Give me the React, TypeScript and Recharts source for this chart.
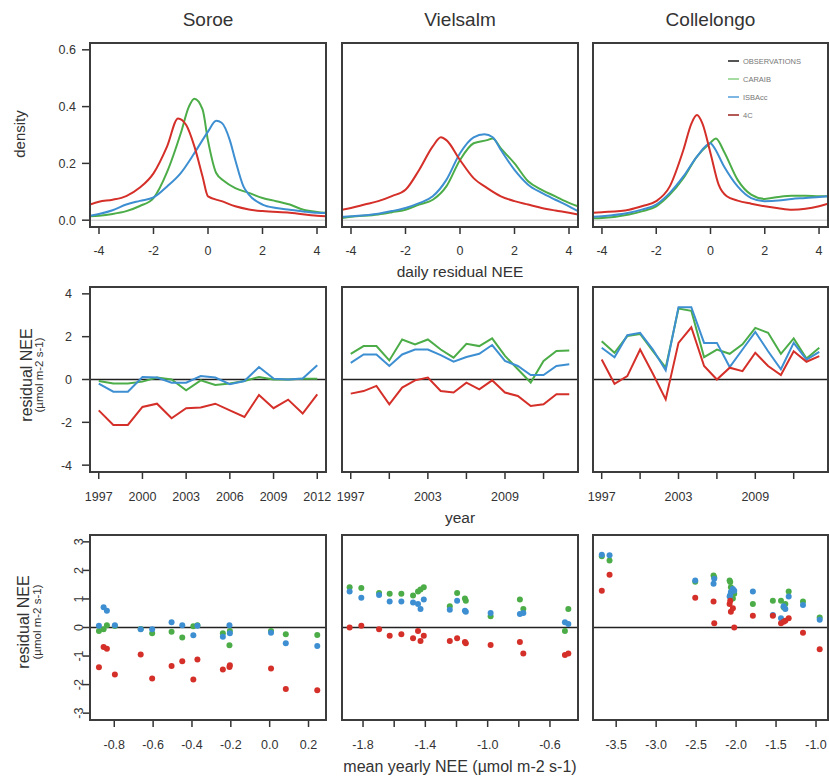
import React from "react";
import {
  LineChart,
  Line,
  ScatterChart,
  Scatter,
  XAxis,
  YAxis,
  ReferenceLine,
} from "recharts";

type Pt = [number, number];

// ---- top row: density of daily residual NEE ----
const soroeDensCaraib: Pt[] = [
  [-4.33, 0.014], [-4, 0.016], [-3.5, 0.022], [-3, 0.032], [-2.5, 0.05], [-2, 0.078],
  [-1.5, 0.17], [-1, 0.306], [-0.7, 0.4], [-0.5, 0.428], [-0.2, 0.39], [0, 0.28],
  [0.3, 0.166], [0.6, 0.137], [1, 0.113], [1.5, 0.096], [2, 0.078], [2.5, 0.067],
  [3, 0.055], [3.5, 0.037], [4, 0.029], [4.33, 0.026],
];
const soroeDensIsba: Pt[] = [
  [-4.33, 0.016], [-4, 0.022], [-3.5, 0.035], [-3, 0.055], [-2.5, 0.068], [-2, 0.08],
  [-1.5, 0.119], [-1, 0.166], [-0.5, 0.236], [0, 0.312], [0.3, 0.35], [0.5, 0.343],
  [0.8, 0.282], [1, 0.212], [1.3, 0.119], [1.5, 0.09], [2, 0.055], [2.5, 0.043],
  [3, 0.037], [3.5, 0.031], [4, 0.026], [4.33, 0.025],
];
const soroeDens4C: Pt[] = [
  [-4.33, 0.055], [-4, 0.065], [-3.5, 0.072], [-3, 0.085], [-2.5, 0.115], [-2, 0.165],
  [-1.5, 0.26], [-1.1, 0.358], [-0.8, 0.335], [-0.5, 0.26], [-0.2, 0.154], [0, 0.084],
  [0.5, 0.067], [1, 0.049], [1.5, 0.038], [2, 0.032], [3, 0.026], [4, 0.016], [4.33, 0.014],
];

const vielsalmDensCaraib: Pt[] = [
  [-4.33, 0.008], [-4, 0.012], [-3, 0.02], [-2.5, 0.028], [-2, 0.037], [-1.5, 0.055],
  [-1, 0.072], [-0.5, 0.119], [0, 0.212], [0.5, 0.271], [1, 0.282], [1.2, 0.288],
  [1.5, 0.253], [2, 0.2], [2.5, 0.137], [3, 0.107], [3.5, 0.084], [4, 0.061], [4.33, 0.049],
];
const vielsalmDensIsba: Pt[] = [
  [-4.33, 0.012], [-4, 0.014], [-3, 0.023], [-2.5, 0.032], [-2, 0.043], [-1.5, 0.06],
  [-1, 0.084], [-0.5, 0.142], [0, 0.236], [0.5, 0.292], [0.9, 0.303], [1.2, 0.292],
  [1.5, 0.247], [2, 0.177], [2.5, 0.125], [3, 0.096], [3.5, 0.072], [4, 0.049], [4.33, 0.032],
];
const vielsalmDens4C: Pt[] = [
  [-4.33, 0.037], [-4, 0.043], [-3.5, 0.055], [-3, 0.067], [-2.5, 0.085], [-2, 0.107],
  [-1.5, 0.177], [-1, 0.26], [-0.7, 0.292], [-0.5, 0.282], [0, 0.212], [0.5, 0.148],
  [1, 0.113], [1.5, 0.084], [2, 0.067], [2.5, 0.055], [3, 0.043], [3.5, 0.034], [4, 0.026],
  [4.33, 0.02],
];

const collelongoDensCaraib: Pt[] = [
  [-4.33, 0.007], [-4, 0.008], [-3, 0.02], [-2.5, 0.032], [-2, 0.049], [-1.5, 0.09],
  [-1, 0.148], [-0.5, 0.224], [0, 0.273], [0.2, 0.288], [0.5, 0.241], [1, 0.142],
  [1.5, 0.09], [2, 0.075], [2.5, 0.082], [3, 0.086], [3.5, 0.086], [4, 0.084], [4.33, 0.084],
];
const collelongoDensIsba: Pt[] = [
  [-4.33, 0.012], [-4, 0.014], [-3, 0.026], [-2.5, 0.038], [-2, 0.055], [-1.5, 0.096],
  [-1, 0.154], [-0.5, 0.224], [0, 0.271], [0.1, 0.261], [0.5, 0.189], [1, 0.119],
  [1.5, 0.078], [2, 0.067], [2.5, 0.069], [3, 0.075], [3.5, 0.078], [4, 0.082], [4.33, 0.084],
];
const collelongoDens4C: Pt[] = [
  [-4.33, 0.026], [-4, 0.028], [-3, 0.037], [-2.5, 0.05], [-2, 0.067], [-1.5, 0.119],
  [-1, 0.247], [-0.7, 0.341], [-0.5, 0.37], [-0.3, 0.341], [0, 0.236], [0.3, 0.125],
  [0.6, 0.084], [1, 0.069], [1.5, 0.058], [2, 0.049], [2.5, 0.042], [3, 0.037], [3.5, 0.04],
  [4, 0.049], [4.33, 0.058],
];

// ---- middle row: yearly residual NEE ----
const soroeYears = [1997, 1998, 1999, 2000, 2001, 2002, 2003, 2004, 2005, 2006, 2007, 2008, 2009, 2010, 2011, 2012];
const soroeCaraib = [-0.07, -0.19, -0.19, -0.1, 0.09, 0, -0.5, -0.04, -0.26, -0.19, -0.07, 0.12, 0, 0, 0.03, 0.03];
const soroeIsba = [-0.19, -0.57, -0.57, 0.12, 0.09, -0.15, -0.15, 0.16, 0.09, -0.22, -0.07, 0.58, 0.04, 0, 0.05, 0.66];
const soroe4C = [-1.44, -2.12, -2.12, -1.28, -1.13, -1.81, -1.34, -1.31, -1.13, -1.44, -1.75, -0.72, -1.34, -0.94, -1.59, -0.69];

const longYears = [1997, 1998, 1999, 2000, 2001, 2002, 2003, 2004, 2005, 2006, 2007, 2008, 2009, 2010, 2011, 2012, 2013, 2014];
const vielsalmCaraib = [1.2, 1.56, 1.56, 0.89, 1.87, 1.64, 1.87, 1.4, 1.02, 1.67, 1.56, 1.92, 1.1, 0.48, -0.14, 0.87, 1.33, 1.36];
const vielsalmIsba = [0.78, 1.17, 1.17, 0.63, 1.17, 1.4, 1.4, 1.14, 0.83, 1.05, 1.2, 1.61, 0.87, 0.63, 0.21, 0.21, 0.63, 0.71];
const vielsalm4C = [-0.66, -0.54, -0.3, -1.16, -0.38, -0.04, 0.09, -0.54, -0.61, -0.15, -0.46, -0.04, -0.61, -0.77, -1.24, -1.16, -0.69, -0.69];

const collelongoCaraib = [1.79, 1.25, 2.03, 2.13, 1.32, 0.55, 3.31, 3.21, 1.04, 1.4, 1.2, 1.64, 2.41, 2.18, 1.2, 1.92, 0.98, 1.48];
const collelongoIsba = [1.48, 1.04, 2.07, 2.18, 1.4, 0.43, 3.38, 3.38, 1.71, 1.71, 0.58, 1.4, 2.22, 1.32, 0.48, 1.71, 0.93, 1.29];
const collelongo4C = [0.93, -0.2, 0.16, 1.4, 0.27, -0.93, 1.71, 2.44, 0.63, 0, 0.55, 0.39, 1.25, 0.63, 0.21, 1.32, 0.83, 1.09];

// ---- bottom row: residual vs mean yearly NEE ----
const soroeMeanNee = [-0.879, -0.855, -0.838, -0.797, -0.664, -0.605, -0.505, -0.45, -0.393, -0.372, -0.241, -0.207, -0.205, 0.007, 0.083, 0.245];
const soroeResCaraib = [-0.12, -0.06, 0.08, 0.05, -0.05, -0.2, -0.15, -0.35, 0.04, 0.08, -0.2, -0.62, -0.12, -0.12, -0.24, -0.26];
const soroeResIsba = [0.06, 0.71, 0.59, 0.08, -0.06, -0.06, 0.18, 0.08, -0.27, 0.06, -0.32, 0.08, -0.2, -0.18, -0.55, -0.65];
const soroeRes4C = [-1.39, -0.68, -0.74, -1.65, -0.95, -1.79, -1.35, -1.18, -1.82, -1.12, -1.47, -1.38, -1.32, -1.44, -2.15, -2.2];

const vielsalmMeanNee = [-1.886, -1.811, -1.697, -1.629, -1.554, -1.479, -1.447, -1.431, -1.41, -1.243, -1.196, -1.146, -1.14, -0.981, -0.793, -0.771, -0.504, -0.482];
const vielsalmResCaraib = [1.41, 1.38, 1.21, 1.18, 1.18, 1.12, 1.26, 1.33, 1.41, 0.74, 1.21, 1.02, 0.94, 0.39, 0.98, 0.65, -0.12, 0.65];
const vielsalmResIsba = [1.26, 1.04, 1.14, 0.91, 0.91, 0.88, 0.82, 0.65, 0.98, 0.62, 0.94, 0.59, 0.55, 0.51, 0.47, 0.51, 0.18, 0.12];
const vielsalmRes4C = [0, 0.06, -0.06, -0.29, -0.24, -0.38, -0.12, -0.47, -0.29, -0.47, -0.38, -0.51, -0.55, -0.61, -0.51, -0.91, -0.96, -0.91];

const collelongoMeanNee = [-3.68, -3.583, -2.511, -2.282, -2.273, -2.081, -2.073, -2.065, -2.04, -2.023, -1.79, -1.54, -1.438, -1.405, -1.384, -1.342, -1.163, -0.954];
const collelongoResCaraib = [2.5, 2.35, 1.6, 1.82, 1.75, 1.65, 1.59, 1.41, 1.02, 1.18, 0.82, 0.94, 0.94, 0.71, 0.82, 1.26, 0.91, 0.35];
const collelongoResIsba = [2.55, 2.53, 1.65, 1.53, 1.71, 1.09, 1.14, 1.24, 1.35, 1.29, 1.26, 0.44, 0.32, 0.74, 0.65, 1.09, 0.79, 0.27];
const collelongoRes4C = [1.29, 1.85, 1.04, 0.91, 0.15, 0.82, 0.94, 0.55, 0.67, 0, 0.41, 0.41, 0.15, 0.2, 0.24, 0.32, -0.18, -0.76];

const siteNames = ["Soroe", "Vielsalm", "Collelongo"];
const legendLabels = ["OBSERVATIONS", "CARAIB", "ISBAcc", "4C"];

const FONT = "'Liberation Sans', Arial, Helvetica, sans-serif";
const GREEN = "#4cad48";
const BLUE = "#3d8fd2";
const RED = "#d42f28";
const INK = "#333";

// panel boxes (plot areas) in page pixels
const COL_LEFT = [90, 342, 593];
const COL_W = [236, 236, 235];
const ROW_TOP = [43, 287, 535];
const ROW_H = [184, 185, 185];
const XH = 40;
const YW = 60;
const SIDE = 20; // room for edge tick labels

const tickText = { fill: INK, fontSize: 12.5, fontFamily: FONT };
const tickLine = { stroke: INK, strokeWidth: 1.5 };
const chartMargin = { top: 0, right: SIDE, bottom: 0, left: SIDE };

const toXY = (pts: Pt[]) => pts.map(([x, y]) => ({ x, y }));
const zipXY = (xs: number[], ys: number[]) => xs.map((x, i) => ({ x, y: ys[i] }));

function Frame({ col, row }: { col: number; row: number }) {
  return (
    <div
      style={{
        position: "absolute",
        left: COL_LEFT[col] - 1,
        top: ROW_TOP[row] - 1,
        width: COL_W[col] + 2,
        height: ROW_H[row] + 2,
        border: "2px solid #3c3c3c",
        boxSizing: "border-box",
        pointerEvents: "none",
      }}
    />
  );
}

function Label({ x, y, text, size, rotate }: { x: number; y: number; text: string; size: number; rotate?: boolean }) {
  return (
    <div
      style={{
        position: "absolute",
        left: x,
        top: y,
        transform: `translate(-50%, -50%)${rotate ? " rotate(-90deg)" : ""}`,
        whiteSpace: "nowrap",
        fontFamily: FONT,
        fontSize: size,
        color: INK,
        lineHeight: 1,
      }}
    >
      {text}
    </div>
  );
}

const RotTick = (props: any) => {
  const { x, y, payload } = props;
  return (
    <text
      x={x}
      y={y}
      transform={`rotate(-90 ${x} ${y})`}
      textAnchor="middle"
      fill={INK}
      fontSize={12.5}
      fontFamily={FONT}
    >
      {payload.value}
    </text>
  );
};

// place a chart so that its plot area lands on the panel box
const chartPos = (col: number, row: number, yw: number) => ({
  position: "absolute" as const,
  left: COL_LEFT[col] - yw - SIDE,
  top: ROW_TOP[row],
});
const chartW = (col: number, yw: number) => COL_W[col] + yw + 2 * SIDE;

function DensityPanel({ col, caraib, isba, fourC }: { col: number; caraib: Pt[]; isba: Pt[]; fourC: Pt[] }) {
  const showY = col === 0;
  const yw = showY ? YW : 0;
  return (
    <div style={chartPos(col, 0, yw)}>
      <LineChart width={chartW(col, yw)} height={ROW_H[0] + XH} margin={chartMargin}>
        <XAxis
          type="number"
          dataKey="x"
          domain={[-4.33, 4.33]}
          ticks={[-4, -2, 0, 2, 4]}
          interval={0}
          allowDataOverflow
          axisLine={false}
          tickLine={tickLine}
          tickSize={7}
          tickMargin={12}
          height={XH}
          tick={tickText}
        />
        <YAxis
          type="number"
          dataKey="y"
          domain={[-0.024, 0.624]}
          ticks={[0, 0.2, 0.4, 0.6]}
          interval={0}
          allowDataOverflow
          hide={!showY}
          width={yw}
          axisLine={false}
          tickLine={tickLine}
          tickSize={8}
          tickMargin={6}
          tick={tickText}
          tickFormatter={(v: number) => v.toFixed(1)}
        />
        <ReferenceLine y={0} stroke="#c4c4c4" strokeWidth={1} />
        <Line data={toXY(caraib)} dataKey="y" type="monotone" stroke={GREEN} strokeWidth={2} dot={false} isAnimationActive={false} />
        <Line data={toXY(isba)} dataKey="y" type="monotone" stroke={BLUE} strokeWidth={2} dot={false} isAnimationActive={false} />
        <Line data={toXY(fourC)} dataKey="y" type="monotone" stroke={RED} strokeWidth={2} dot={false} isAnimationActive={false} />
      </LineChart>
    </div>
  );
}

function YearPanel({
  col, years, caraib, isba, fourC, labelled,
}: { col: number; years: number[]; caraib: number[]; isba: number[]; fourC: number[]; labelled: number[] }) {
  const showY = col === 0;
  const yw = showY ? YW : 0;
  const first = years[0];
  const last = years[years.length - 1];
  const pad = (last - first) * 0.04;
  const data = years.map((x, i) => ({ x, g: caraib[i], b: isba[i], r: fourC[i] }));
  return (
    <div style={chartPos(col, 1, yw)}>
      <LineChart width={chartW(col, yw)} height={ROW_H[1] + XH} data={data} margin={chartMargin}>
        <XAxis
          type="number"
          dataKey="x"
          domain={[first - pad, last + pad]}
          ticks={[1997, 2000, 2003, 2006, 2009, 2012]}
          interval={0}
          allowDataOverflow
          axisLine={false}
          tickLine={tickLine}
          tickSize={7}
          tickMargin={13}
          height={XH}
          tick={tickText}
          tickFormatter={(v: number) => (labelled.includes(v) ? String(v) : "")}
        />
        <YAxis
          type="number"
          domain={[-4.32, 4.32]}
          ticks={[-4, -2, 0, 2, 4]}
          interval={0}
          allowDataOverflow
          hide={!showY}
          width={yw}
          axisLine={false}
          tickLine={tickLine}
          tickSize={8}
          tickMargin={10}
          tick={tickText}
        />
        <ReferenceLine y={0} stroke="#222" strokeWidth={1.6} />
        <Line dataKey="g" type="linear" stroke={GREEN} strokeWidth={2} dot={false} isAnimationActive={false} />
        <Line dataKey="b" type="linear" stroke={BLUE} strokeWidth={2} dot={false} isAnimationActive={false} />
        <Line dataKey="r" type="linear" stroke={RED} strokeWidth={2} dot={false} isAnimationActive={false} />
      </LineChart>
    </div>
  );
}

const dotShape = (color: string) => (p: any) => <circle cx={p.cx} cy={p.cy} r={3} fill={color} />;

function ScatterPanel({
  col, xs, caraib, isba, fourC, domain, ticks, labelled,
}: {
  col: number; xs: number[]; caraib: number[]; isba: number[]; fourC: number[];
  domain: [number, number]; ticks: number[]; labelled: number[];
}) {
  const showY = col === 0;
  const yw = showY ? YW : 0;
  return (
    <div style={chartPos(col, 2, yw)}>
      <ScatterChart width={chartW(col, yw)} height={ROW_H[2] + XH} margin={chartMargin}>
        <XAxis
          type="number"
          dataKey="x"
          domain={domain}
          ticks={ticks}
          interval={0}
          allowDataOverflow
          axisLine={false}
          tickLine={tickLine}
          tickSize={7}
          tickMargin={13}
          height={XH}
          tick={tickText}
          tickFormatter={(v: number) => (labelled.some((l) => Math.abs(l - v) < 1e-6) ? v.toFixed(1) : "")}
        />
        <YAxis
          type="number"
          dataKey="y"
          domain={[-3.24, 3.24]}
          ticks={[-3, -2, -1, 0, 1, 2, 3]}
          interval={0}
          allowDataOverflow
          hide={!showY}
          width={yw}
          axisLine={false}
          tickLine={tickLine}
          tickSize={7}
          tickMargin={0}
          tick={<RotTick />}
        />
        <ReferenceLine y={0} stroke="#222" strokeWidth={1.6} />
        <Scatter data={zipXY(xs, caraib)} fill={GREEN} shape={dotShape(GREEN)} isAnimationActive={false} />
        <Scatter data={zipXY(xs, isba)} fill={BLUE} shape={dotShape(BLUE)} isAnimationActive={false} />
        <Scatter data={zipXY(xs, fourC)} fill={RED} shape={dotShape(RED)} isAnimationActive={false} />
      </ScatterChart>
    </div>
  );
}

function LegendBox() {
  const colors = ["#555", "#a6dba2", "#7db6e2", "#b35a57"];
  return (
    <div style={{ position: "absolute", left: 728, top: 52, fontFamily: FONT, fontSize: 7.5, color: "#777" }}>
      {legendLabels.map((t, i) => (
        <div key={t} style={{ display: "flex", alignItems: "center", height: 18 }}>
          <span style={{ display: "inline-block", width: 11, height: 1.5, background: colors[i], marginRight: 4 }} />
          <span>{t}</span>
        </div>
      ))}
    </div>
  );
}

export default function App() {
  return (
    <div style={{ position: "absolute", left: 0, top: 0, width: 829, height: 780, background: "#fff", overflow: "hidden" }}>
      {siteNames.map((s, i) => (
        <Label key={s} x={COL_LEFT[i] + COL_W[i] / 2} y={19} text={s} size={19} />
      ))}

      <DensityPanel col={0} caraib={soroeDensCaraib} isba={soroeDensIsba} fourC={soroeDens4C} />
      <DensityPanel col={1} caraib={vielsalmDensCaraib} isba={vielsalmDensIsba} fourC={vielsalmDens4C} />
      <DensityPanel col={2} caraib={collelongoDensCaraib} isba={collelongoDensIsba} fourC={collelongoDens4C} />

      <YearPanel col={0} years={soroeYears} caraib={soroeCaraib} isba={soroeIsba} fourC={soroe4C} labelled={[1997, 2000, 2003, 2006, 2009, 2012]} />
      <YearPanel col={1} years={longYears} caraib={vielsalmCaraib} isba={vielsalmIsba} fourC={vielsalm4C} labelled={[1997, 2003, 2009]} />
      <YearPanel col={2} years={longYears} caraib={collelongoCaraib} isba={collelongoIsba} fourC={collelongo4C} labelled={[1997, 2003, 2009]} />

      <ScatterPanel
        col={0} xs={soroeMeanNee} caraib={soroeResCaraib} isba={soroeResIsba} fourC={soroeRes4C}
        domain={[-0.925, 0.29]} ticks={[-0.8, -0.6, -0.4, -0.2, 0, 0.2]} labelled={[-0.8, -0.6, -0.4, -0.2, 0, 0.2]}
      />
      <ScatterPanel
        col={1} xs={vielsalmMeanNee} caraib={vielsalmResCaraib} isba={vielsalmResIsba} fourC={vielsalmRes4C}
        domain={[-1.935, -0.42]} ticks={[-1.8, -1.6, -1.4, -1.2, -1.0, -0.8, -0.6]} labelled={[-1.8, -1.4, -1.0, -0.6]}
      />
      <ScatterPanel
        col={2} xs={collelongoMeanNee} caraib={collelongoResCaraib} isba={collelongoResIsba} fourC={collelongoRes4C}
        domain={[-3.79, -0.85]} ticks={[-3.5, -3.0, -2.5, -2.0, -1.5, -1.0]} labelled={[-3.5, -3.0, -2.5, -2.0, -1.5, -1.0]}
      />

      {[0, 1, 2].map((c) => [0, 1, 2].map((r) => <Frame key={`${c}-${r}`} col={c} row={r} />))}

      <LegendBox />

      <Label x={19} y={134} text="density" size={15} rotate />
      <Label x={460} y={272} text="daily residual NEE" size={15.5} />
      <Label x={27} y={375} text="residual NEE" size={16} rotate />
      <Label x={40} y={375} text="(µmol m-2 s-1)" size={11.5} rotate />
      <Label x={460} y={518} text="year" size={15.5} />
      <Label x={24} y={622} text="residual NEE" size={16} rotate />
      <Label x={38} y={622} text="(µmol m-2 s-1)" size={11.5} rotate />
      <Label x={460} y={767} text="mean yearly NEE (µmol m-2 s-1)" size={16} />
    </div>
  );
}
